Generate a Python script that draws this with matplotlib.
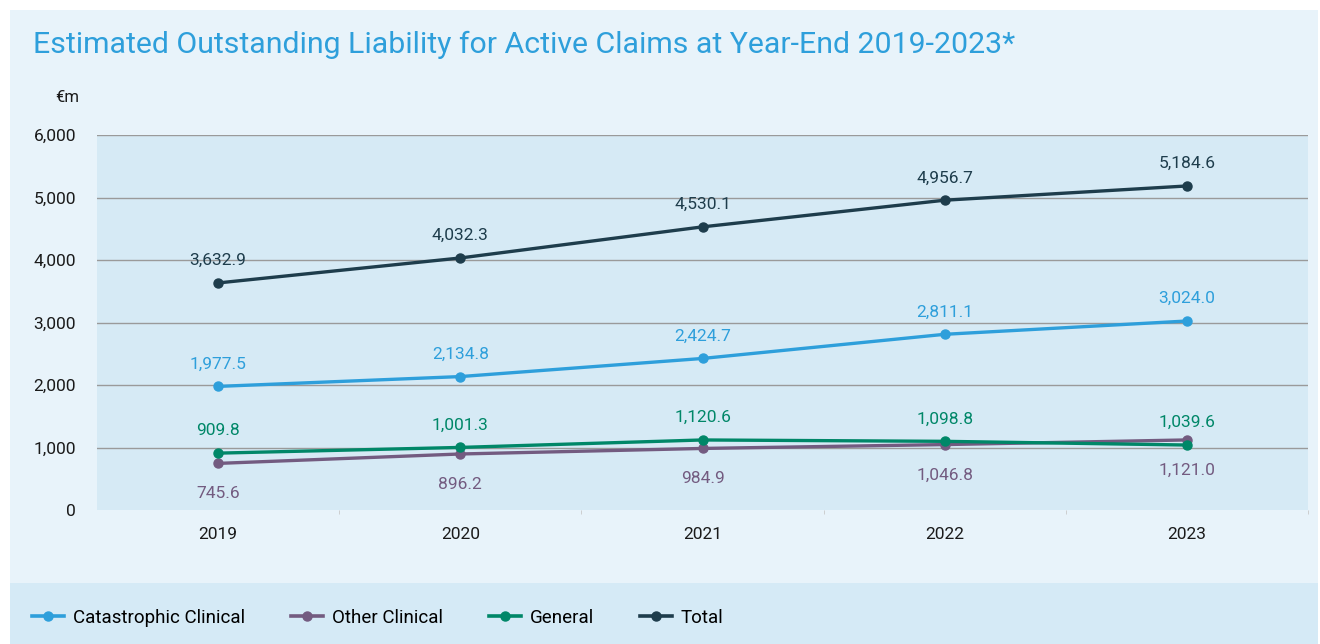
import matplotlib
matplotlib.use('Agg')
import matplotlib.pyplot as plt
from matplotlib.patches import Rectangle
from matplotlib.lines import Line2D
from matplotlib.ticker import FuncFormatter

plt.rcParams['font.family'] = ['Roboto', 'DejaVu Sans']

# outstanding liability, EUR millions
years = ['2019', '2020', '2021', '2022', '2023']
catastrophic = [1977.5, 2134.8, 2424.7, 2811.1, 3024.0]
other_clinical = [745.6, 896.2, 984.9, 1046.8, 1121.0]
general = [909.8, 1001.3, 1120.6, 1098.8, 1039.6]
total = [3632.9, 4032.3, 4530.1, 4956.7, 5184.6]

series = [
    ('Catastrophic Clinical', catastrophic, '#2e9fdb', 1),
    ('Other Clinical', other_clinical, '#735b80', -1),
    ('General', general, '#008768', 1),
    ('Total', total, '#1e3d4c', 1),
]

fig = plt.figure(figsize=(13.2, 6.44), dpi=100)
fig.patch.set_facecolor('white')

# panel backgrounds
fig.patches.append(Rectangle((10 / 1320, 0), 1308 / 1320, 634 / 644,
                             transform=fig.transFigure, facecolor='#e8f3fa',
                             edgecolor='none', zorder=-10))
fig.patches.append(Rectangle((10 / 1320, 0), 1308 / 1320, 61 / 644,
                             transform=fig.transFigure, facecolor='#d5eaf6',
                             edgecolor='none', zorder=-9))

fig.text(33 / 1320, 1 - 45 / 644,
         'Estimated Outstanding Liability for Active Claims at Year-End 2019-2023*',
         color='#2e9fdb', fontsize=21.8, va='center', ha='left')
fig.text(67 / 1320, 1 - 97 / 644, '€m', fontsize=12, va='center', ha='center',
         color='#1a1a1a')

ax = fig.add_axes([97 / 1320, 1 - 510 / 644, 1211 / 1320, 375 / 644])
ax.set_facecolor('#d6eaf5')
x = list(range(len(years)))

for name, vals, col, side in series:
    ax.plot(x, vals, color=col, lw=2.4, marker='o', ms=6.5, label=name,
            solid_capstyle='round', zorder=3)
    for xi, v in zip(x, vals):
        off = 16 if side > 0 else -22
        ax.annotate(f'{v:,.1f}', (xi, v), xytext=(0, off),
                    textcoords='offset points', ha='center', va='center',
                    color=col, fontsize=12.5)

ax.set_xlim(-0.5, 4.5)
ax.set_ylim(0, 6000)
ax.set_yticks(range(0, 7000, 1000))
ax.yaxis.set_major_formatter(FuncFormatter(lambda v, p: f'{v:,.0f}'))
ax.set_xticks(x)
ax.set_xticklabels(years)
ax.set_xticks([0.5, 1.5, 2.5, 3.5, 4.5], minor=True)
ax.tick_params(axis='x', which='major', length=0, pad=12, labelsize=12.5,
               labelcolor='#1a1a1a')
ax.tick_params(axis='x', which='minor', length=3, color='#c8c8c8')
ax.tick_params(axis='y', length=0, pad=15, labelsize=12.5, labelcolor='#1a1a1a')
for yv in range(1000, 7000, 1000):
    ax.axhline(yv, color='#9a9a9a', lw=1, zorder=1)
for s in ax.spines.values():
    s.set_visible(False)

handles = [Line2D([], [], color=c, lw=2.6, marker='o', ms=6.5)
           for _, _, c, _ in series]
labels = [n for n, _, _, _ in series]
fig.legend(handles, labels, loc='center left',
           bbox_to_anchor=(15 / 1320, 1 - 618 / 644), ncol=4, frameon=False,
           fontsize=13.5, handlelength=1.7, handletextpad=0.48,
           columnspacing=2.45)

fig.savefig('out.png', dpi=100, facecolor=fig.get_facecolor())
